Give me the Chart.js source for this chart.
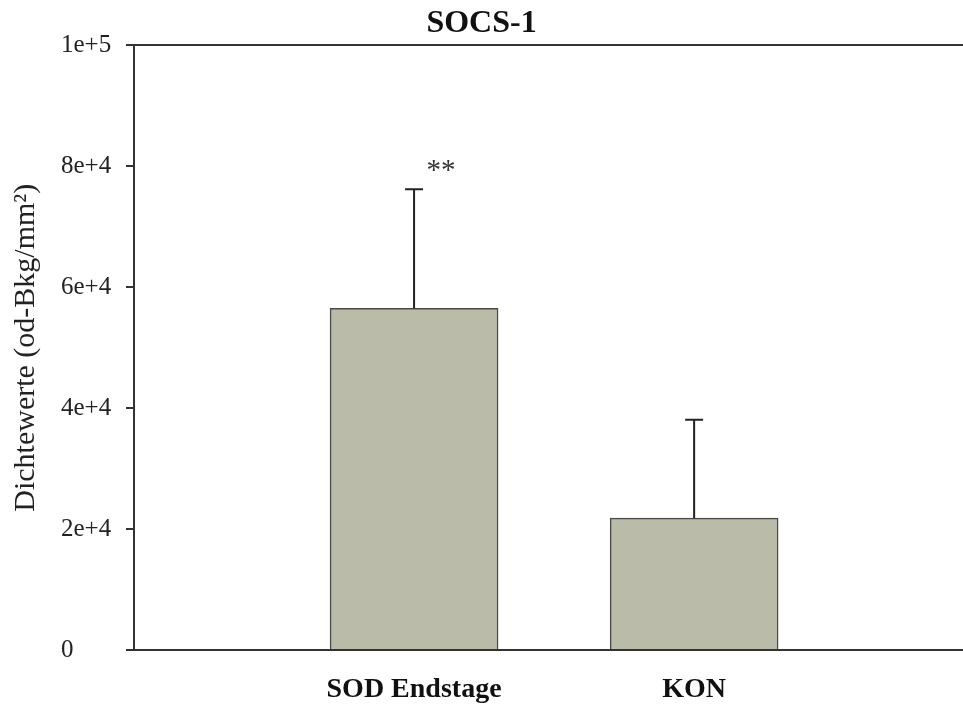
<!DOCTYPE html>
<html>
<head>
<meta charset="utf-8">
<script src="https://cdn.jsdelivr.net/npm/chart.js@4/dist/chart.umd.min.js"></script>
<style>
  html, body { margin: 0; padding: 0; background: #fff; overflow: hidden; }
  #wrap { width: 963px; height: 706px; }
</style>
</head>
<body>
<div id="wrap"><canvas id="myChart" width="963" height="706"></canvas></div>
<script>
const categories = ['SOD Endstage', 'KON'];
const means = [56500, 21800];
const errors = [19700, 16300];
const marks = ['**', ''];
const yTickLabels = ['0', '2e+4', '4e+4', '6e+4', '8e+4', '1e+5'];

const serif = "'Liberation Serif', 'Times New Roman', serif";

// upper error bars + significance marks
const errorBars = {
  id: 'errorBars',
  afterDatasetsDraw(chart) {
    const ctx = chart.ctx;
    const y = chart.scales.y;
    const meta = chart.getDatasetMeta(0);
    ctx.save();
    ctx.strokeStyle = '#222';
    ctx.lineWidth = 2;
    meta.data.forEach((bar, i) => {
      const top = y.getPixelForValue(means[i] + errors[i]);
      ctx.beginPath();
      ctx.moveTo(bar.x, bar.y);
      ctx.lineTo(bar.x, top);
      ctx.moveTo(bar.x - 9, top);
      ctx.lineTo(bar.x + 9, top);
      ctx.stroke();
      if (marks[i]) {
        ctx.fillStyle = '#333';
        ctx.font = '29px ' + serif;
        ctx.textAlign = 'center';
        ctx.textBaseline = 'alphabetic';
        ctx.fillText(marks[i], bar.x + 27, top - 10);
      }
    });
    ctx.restore();
  }
};

const ctx = document.getElementById('myChart').getContext('2d');
new Chart(ctx, {
  type: 'bar',
  data: {
    datasets: [{
      data: categories.map((c, i) => ({ x: i + 1, y: means[i] })),
      backgroundColor: 'rgb(187,187,170)',
      borderColor: '#4a4a4a',
      borderWidth: 1.5,
      barThickness: 168
    }]
  },
  options: {
    responsive: false,
    animation: false,
    layout: { padding: 0 },
    plugins: {
      legend: { display: false },
      tooltip: { enabled: false },
      title: {
        display: true,
        text: 'SOCS-1',
        color: '#111',
        font: { family: serif, size: 32, weight: 'bold' },
        padding: { top: 5, bottom: 2 }
      }
    },
    scales: {
      x: {
        type: 'linear',
        min: 0,
        max: 2.96,
        offset: false,
        afterBuildTicks: axis => { axis.ticks = categories.map((c, i) => ({ value: i + 1 })); },
        afterFit: s => { s.height = 56; },
        grid: { display: false, drawTicks: false, offset: false },
        border: { display: true, color: '#333', width: 2 },
        ticks: {
          autoSkip: false,
          maxRotation: 0,
          padding: 23,
          color: '#111',
          font: { family: serif, size: 28, weight: 'bold' },
          callback: v => categories[v - 1] || ''
        }
      },
      y: {
        min: 0,
        max: 100000,
        weight: 0,
        afterFit: s => { s.width = 73; },
        border: { display: true, color: '#333', width: 2 },
        grid: {
          drawOnChartArea: true,
          color: c => (c.tick && c.tick.value === 100000 ? '#333' : 'rgba(0,0,0,0)'),
          lineWidth: 2,
          tickColor: '#333',
          tickLength: 8
        },
        ticks: {
          stepSize: 20000,
          crossAlign: 'far',
          padding: 12,
          color: '#222',
          font: { family: serif, size: 25 },
          callback: (v, i) => yTickLabels[i]
        }
      },
      yTitle: {
        type: 'linear',
        position: 'left',
        weight: 1,
        afterFit: s => { s.width = 61; },
        grid: { display: false },
        border: { display: false },
        ticks: { display: false },
        title: {
          display: true,
          text: 'Dichtewerte (od-Bkg/mm²)',
          color: '#222',
          font: { family: serif, size: 30 },
          padding: { top: 8, bottom: 0 }
        }
      }
    }
  },
  plugins: [errorBars]
});
</script>
</body>
</html>
